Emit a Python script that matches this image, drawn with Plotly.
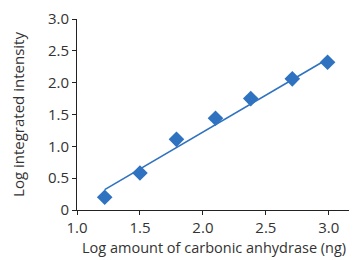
import plotly.graph_objects as go

log_amount = [1.22, 1.50, 1.79, 2.10, 2.38, 2.71, 2.99]
log_intensity = [0.20, 0.58, 1.11, 1.44, 1.75, 2.06, 2.32]
fit_x = [1.22, 2.98]
fit_y = [0.32, 2.36]
x_ticks = [1.0, 1.5, 2.0, 2.5, 3.0]
x_ticktext = ["1.0", "1.5", "2.0", "2.5", "3.0"]
y_ticks = [0, 0.5, 1.0, 1.5, 2.0, 2.5, 3.0]
y_ticktext = ["0", "0.5", "1.0", "1.5", "2.0", "2.5", "3.0"]
x_title = "Log amount of carbonic anhydrase (ng)"
y_title = "Log integrated intensity"

blue = "#2F72C0"
font_family = "Open Sans, Lato, sans-serif"
text_color = "#333333"

fig = go.Figure()
fig.add_trace(go.Scatter(x=fit_x, y=fit_y, mode="lines",
                         line=dict(color=blue, width=1.6), showlegend=False))
fig.add_trace(go.Scatter(x=log_amount, y=log_intensity, mode="markers",
                         marker=dict(symbol="diamond", size=12, color=blue),
                         showlegend=False))

axis_common = dict(showline=True, linecolor="#222222", linewidth=1,
                   ticks="outside", ticklen=4, tickcolor="#222222",
                   showgrid=False, zeroline=False, automargin=False,
                   tickfont=dict(size=15, color=text_color, family=font_family))

# page body has an 8px default margin, so the figure is sized to fit the window
fig.update_layout(
    width=349, height=252,
    margin=dict(l=69, r=3, t=11, b=50),
    paper_bgcolor="white", plot_bgcolor="white",
    font=dict(family=font_family, color=text_color),
    xaxis=dict(range=[1.0, 3.2], tickvals=x_ticks, ticktext=x_ticktext,
               **axis_common),
    yaxis=dict(range=[0, 3.0], tickvals=y_ticks, ticktext=y_ticktext,
               title=dict(text=y_title,
                          font=dict(size=15, color=text_color), standoff=22),
               **axis_common),
)
fig.add_annotation(text=x_title, xref="paper", yref="paper", x=1.0, y=0,
                   xanchor="right", yanchor="top", xshift=-6, yshift=-26,
                   showarrow=False, font=dict(size=14.5, color=text_color))

fig.write_html("out.html")
